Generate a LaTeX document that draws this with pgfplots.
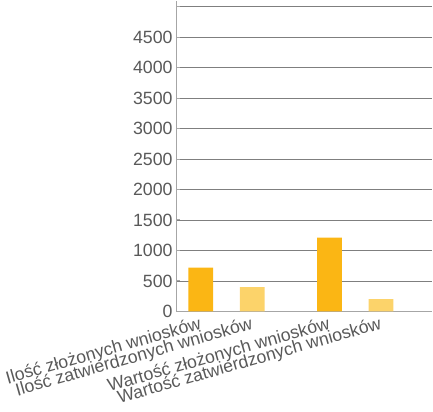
\documentclass[border=0pt]{standalone}
\usepackage{pgfplots}
\pgfplotsset{compat=1.18}
\usepackage{fontspec}
\setmainfont{Liberation Sans}
\definecolor{barA}{HTML}{FBB614}
\definecolor{barB}{HTML}{FCD36A}
\definecolor{txt}{HTML}{595959}
\definecolor{gridc}{HTML}{7F7F7F}
\definecolor{axc}{HTML}{A6A6A6}
\begin{document}
\begin{tikzpicture}
\begin{axis}[
  scale only axis,
  width=249bp, height=302bp,
  xmin=-0.48, xmax=4.5,
  ymin=0, ymax=5100,
  axis x line*=bottom,
  axis y line*=left,
  axis line style={draw=axc, line width=1pt},
  ytick={0,500,...,5000},
  yticklabels={0,500,1000,1500,2000,2500,3000,3500,4000,4500,{}},
  ymajorgrids,
  grid style={draw=gridc, line width=0.8pt},
  ytick style={draw=axc, line width=1pt},
  xtick={0,1,2.5,3.5},
  xticklabels={Ilość złożonych wniosków, Ilość zatwierdzonych wniosków, Wartość złożonych wniosków, Wartość zatwierdzonych wniosków},
  xtick style={draw=none},
  xticklabel style={rotate=16, anchor=north east},
  tick label style={font=\LARGE, color=txt},
  /pgf/number format/assume math mode=true,
]
\addplot[ybar, bar width=24bp, fill=barA, draw=none] coordinates {(0,720) (2.5,1210)};
\addplot[ybar, bar width=24bp, fill=barB, draw=none] coordinates {(1,400) (3.5,200)};
\end{axis}
\end{tikzpicture}
\end{document}
